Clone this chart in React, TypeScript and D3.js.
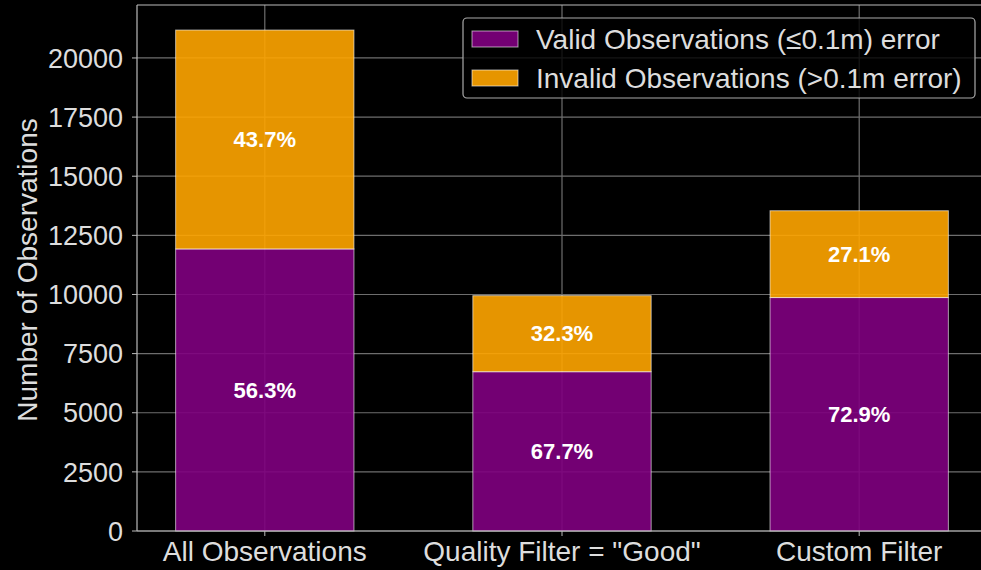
import React from "react";
import * as d3 from "d3";

const categories = ["All Observations", 'Quality Filter = "Good"', "Custom Filter"];
const validCounts = [11925, 6735, 9870];
const invalidCounts = [9255, 3214, 3670];
const validPct = ["56.3%", "67.7%", "72.9%"];
const invalidPct = ["43.7%", "32.3%", "27.1%"];
const yTicks = [0, 2500, 5000, 7500, 10000, 12500, 15000, 17500, 20000];
const legendLabels = ["Valid Observations (\u22640.1m) error", "Invalid Observations (>0.1m error)"];

const W = 981, H = 570;
const M = { left: 137, right: 987, top: 5, bottom: 531 };
const FONT = "'Liberation Sans', Arial, sans-serif";
const PURPLE = "#800080";
const ORANGE = "#FFA500";

export default function App() {
  const totals = validCounts.map((v, i) => v + invalidCounts[i]);
  const maxT = d3.max(totals) as number;
  const x = d3.scaleLinear().domain([-0.43, 2.43]).range([M.left, M.right]);
  const y = d3.scaleLinear().domain([0, maxT * 1.05]).range([M.bottom, M.top]);
  const bw = 0.6;
  const barW = x(bw) - x(0);
  const grid = "#6e6e6e";
  return (
    <div style={{ position: "fixed", left: 0, top: 0, width: W, height: H, background: "#000" }}>
      <svg width={W} height={H} style={{ display: "block", fontFamily: FONT }}>
        <rect x={0} y={0} width={W} height={H} fill="#000" />
        {/* grid */}
        {yTicks.map((t) => (
          <line key={"gy" + t} x1={M.left} x2={M.right} y1={y(t)} y2={y(t)} stroke={grid} strokeWidth={1.2} />
        ))}
        {categories.map((c, i) => (
          <line key={"gx" + i} x1={x(i)} x2={x(i)} y1={M.top} y2={M.bottom} stroke={grid} strokeWidth={1.2} />
        ))}
        {/* bars */}
        {categories.map((c, i) => {
          const x0 = x(i) - barW / 2;
          const v = validCounts[i];
          const t = totals[i];
          return (
            <g key={"b" + i}>
              <rect x={x0} y={y(v)} width={barW} height={y(0) - y(v)} fill={PURPLE} fillOpacity={0.9} stroke="#fff" strokeOpacity={0.6} strokeWidth={1} />
              <rect x={x0} y={y(t)} width={barW} height={y(v) - y(t)} fill={ORANGE} fillOpacity={0.9} stroke="#fff" strokeOpacity={0.6} strokeWidth={1} />
              <text x={x(i)} y={y(v / 2)} dy="0.35em" textAnchor="middle" fill="#fff" fontWeight="bold" fontSize={22}>{validPct[i]}</text>
              <text x={x(i)} y={y(v + (t - v) / 2)} dy="0.35em" textAnchor="middle" fill="#fff" fontWeight="bold" fontSize={22}>{invalidPct[i]}</text>
            </g>
          );
        })}
        {/* spines */}
        <line x1={M.left} x2={M.left} y1={M.top} y2={M.bottom} stroke="#bbb" strokeWidth={1.2} />
        <line x1={M.left} x2={M.right} y1={M.top} y2={M.top} stroke="#bbb" strokeWidth={1.2} />
        <line x1={M.left} x2={M.right} y1={M.bottom} y2={M.bottom} stroke="#bbb" strokeWidth={1.2} />
        {/* y ticks */}
        {yTicks.map((t) => (
          <g key={"yt" + t}>
            <line x1={M.left - 5} x2={M.left} y1={y(t)} y2={y(t)} stroke="#bbb" />
            <text x={M.left - 14} y={y(t)} dy="0.36em" textAnchor="end" fill="#ddd" fontSize={27}>{t}</text>
          </g>
        ))}
        {/* x ticks */}
        {categories.map((c, i) => (
          <g key={"xt" + i}>
            <line x1={x(i)} x2={x(i)} y1={M.bottom} y2={M.bottom + 5} stroke="#bbb" />
            <text x={x(i)} y={M.bottom + 30} textAnchor="middle" fill="#ddd" fontSize={28}>{c}</text>
          </g>
        ))}
        <text transform={`translate(37,${(M.top + M.bottom) / 2 + 2}) rotate(-90)`} textAnchor="middle" fill="#ddd" fontSize={28}>Number of Observations</text>
        {/* legend */}
        <g>
          <rect x={463} y={18} width={512} height={80} rx={4} fill="#000" fillOpacity={0.8} stroke="#aaa" strokeWidth={1.2} />
          {legendLabels.map((l, i) => (
            <g key={"lg" + i}>
              <rect x={472} y={31 + i * 39} width={46} height={16} fill={i === 0 ? PURPLE : ORANGE} fillOpacity={0.9} stroke="#fff" strokeOpacity={0.6} />
              <text x={536} y={39 + i * 39} dy="0.36em" fill="#ddd" fontSize={28}>{l}</text>
            </g>
          ))}
        </g>
      </svg>
    </div>
  );
}
